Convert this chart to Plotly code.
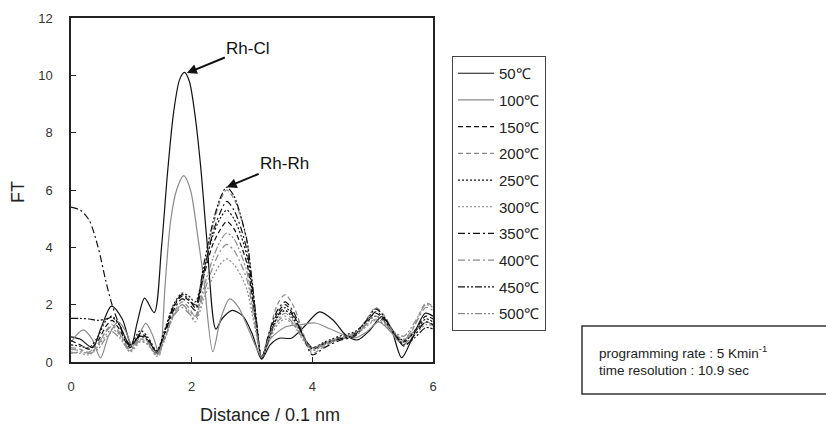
import plotly.graph_objects as go

# ---------------- data ----------------
temps = ["50℃", "100℃", "150℃", "200℃", "250℃", "300℃", "350℃", "400℃", "450℃", "500℃"]

x_50 = [0, 0.15, 0.36, 0.5, 0.67, 0.85, 1.0, 1.1, 1.22, 1.38, 1.5, 1.6, 1.7, 1.8, 1.88, 1.96, 2.05, 2.15,
        2.25, 2.4, 2.5, 2.67, 2.85, 3.0, 3.16, 3.3, 3.45, 3.65, 3.85, 4.12, 4.35, 4.55, 4.75, 4.95, 5.15,
        5.3, 5.48, 5.65, 5.87, 6.0]
y_50 = [0.88, 0.8, 0.5, 1.2, 1.95, 1.5, 0.58, 1.4, 2.23, 1.72, 4.0, 6.6, 8.7, 9.85, 10.1, 9.8, 8.7, 6.8,
        4.3, 1.15, 1.5, 1.8, 1.6, 1.0, 0.1, 0.6, 0.83, 0.83, 1.2, 1.75, 1.45, 0.95, 0.77, 1.1, 1.58,
        1.2, 0.15, 0.8, 1.7, 1.6]

x_100 = [0, 0.2, 0.35, 0.49, 0.62, 0.78, 0.9, 1.02, 1.12, 1.24, 1.36, 1.47, 1.56, 1.65, 1.75, 1.87, 1.98,
         2.1, 2.2, 2.35, 2.48, 2.63, 2.78, 2.95, 3.16, 3.3, 3.56, 3.8, 4.05, 4.3, 4.7, 4.9, 5.1, 5.3,
         5.45, 5.65, 5.9, 6.0]
y_100 = [0.7, 1.12, 0.8, 0.14, 0.9, 1.4, 1.1, 0.55, 0.9, 1.35, 0.9, 0.24, 2.7, 4.9, 6.0, 6.5, 6.0,
         4.4, 2.9, 0.36, 1.5, 2.2, 1.9, 1.1, 0.2, 0.8, 1.23, 1.3, 1.36, 1.15, 0.84, 1.05, 1.4, 1.05,
         0.7, 1.0, 1.4, 1.25]

x_hi = [0, 0.15, 0.3, 0.45, 0.58, 0.68, 0.8, 0.98, 1.15, 1.28, 1.42, 1.55, 1.7, 1.84, 1.95, 2.06, 2.2,
        2.35, 2.47, 2.58, 2.7, 2.82, 2.92, 3.0, 3.08, 3.16, 3.28, 3.42, 3.55, 3.7, 3.85, 4.0, 4.2,
        4.45, 4.7, 4.9, 5.05, 5.2, 5.35, 5.52, 5.7, 5.88, 6.0]
y_150 = [0.75, 0.6, 0.45, 0.75, 1.25, 1.45, 1.15, 0.5, 1.0, 0.8, 0.35, 1.0, 1.9, 2.3, 2.15, 2.0, 3.0,
         4.1, 4.6, 4.9, 4.65, 4.05, 3.4, 2.3, 1.1, 0.15, 0.95, 1.7, 2.0, 1.6, 0.9, 0.45, 0.65, 0.85,
         1.0, 1.45, 1.7, 1.45, 1.0, 0.7, 1.1, 1.6, 1.5]
y_200 = [0.5, 0.45, 0.3, 0.6, 1.1, 1.3, 1.05, 0.4, 0.8, 0.65, 0.25, 0.8, 1.7, 2.1, 1.9, 1.6, 3.1,
         4.7, 5.6, 6.0, 5.7, 5.0, 4.15, 2.8, 1.3, 0.15, 1.0, 2.0, 2.35, 1.9, 1.0, 0.3, 0.55, 0.8,
         0.95, 1.5, 1.9, 1.6, 1.05, 0.6, 1.3, 2.05, 1.95]
y_250 = [0.6, 0.55, 0.5, 0.9, 1.45, 1.6, 1.3, 0.6, 1.1, 0.85, 0.4, 1.1, 2.0, 2.4, 2.3, 2.1, 3.2,
         4.4, 5.0, 5.3, 5.0, 4.4, 3.65, 2.5, 1.2, 0.15, 0.85, 1.55, 1.8, 1.45, 0.85, 0.5, 0.7, 0.9,
         1.05, 1.4, 1.6, 1.4, 1.0, 0.75, 1.05, 1.5, 1.4]
y_300 = [0.35, 0.3, 0.25, 0.55, 0.95, 1.15, 0.95, 0.35, 0.7, 0.6, 0.2, 0.75, 1.6, 2.0, 1.75, 1.4, 2.2,
         2.95, 3.4, 3.6, 3.4, 3.0, 2.5, 1.7, 0.85, 0.12, 0.7, 1.3, 1.5, 1.25, 0.75, 0.4, 0.6, 0.8,
         0.9, 1.25, 1.45, 1.3, 0.95, 0.65, 0.95, 1.3, 1.25]
y_350 = [5.4, 5.3, 4.95, 4.0, 2.8, 2.0, 1.3, 0.55, 0.95, 0.75, 0.3, 0.95, 1.8, 2.2, 2.05, 1.8, 3.1,
         4.5, 5.2, 5.6, 5.3, 4.65, 3.85, 2.65, 1.25, 0.12, 1.0, 1.8, 2.1, 1.7, 0.9, 0.25, 0.5, 0.75,
         0.9, 1.35, 1.75, 1.5, 1.05, 0.55, 0.95, 1.4, 1.3]
y_400 = [0.45, 0.4, 0.35, 0.65, 1.05, 1.25, 1.0, 0.45, 0.85, 0.7, 0.3, 0.85, 1.6, 1.9, 1.7, 1.5, 2.4,
         3.3, 3.85, 4.1, 3.9, 3.4, 2.85, 1.95, 0.95, 0.15, 0.8, 1.4, 1.6, 1.3, 0.8, 0.45, 0.6, 0.8,
         0.95, 1.3, 1.5, 1.35, 1.0, 0.8, 1.3, 1.9, 1.8]
y_450 = [1.52, 1.52, 1.5, 1.45, 1.5, 1.55, 1.3, 0.6, 0.9, 0.75, 0.35, 1.05, 1.95, 2.35, 2.2, 1.9, 3.4,
         4.85, 5.7, 6.1, 5.8, 5.05, 4.2, 2.85, 1.35, 0.12, 0.8, 1.6, 1.9, 1.55, 0.9, 0.5, 0.65, 0.8,
         0.95, 1.45, 1.85, 1.55, 1.0, 0.6, 0.85, 1.2, 1.15]
y_500 = [0.3, 0.35, 0.3, 0.45, 0.85, 1.05, 0.85, 0.4, 0.75, 0.6, 0.25, 0.8, 1.65, 2.0, 1.8, 1.6, 2.6,
         3.6, 4.2, 4.5, 4.3, 3.75, 3.1, 2.1, 1.0, 0.15, 0.85, 1.45, 1.7, 1.4, 0.85, 0.5, 0.65, 0.85,
         1.0, 1.35, 1.6, 1.4, 1.05, 0.9, 1.4, 2.0, 1.9]

x_ticks = [0, 2, 4, 6]
y_ticks = [0, 2, 4, 6, 8, 10, 12]

# ---------------- styles ----------------
BLACK = "#111111"
GRAY = "#8a8a8a"
series = [
    (x_50, y_50, BLACK, "solid"),
    (x_100, y_100, GRAY, "solid"),
    (x_hi, y_150, BLACK, "5px,3px"),
    (x_hi, y_200, GRAY, "5px,3px"),
    (x_hi, y_250, BLACK, "2px,2px"),
    (x_hi, y_300, GRAY, "2px,2px"),
    (x_hi, y_350, BLACK, "7px,3px,2px,3px"),
    (x_hi, y_400, GRAY, "7px,3px,2px,3px"),
    (x_hi, y_450, BLACK, "7px,2px,2px,2px,2px,2px"),
    (x_hi, y_500, GRAY, "7px,2px,2px,2px,2px,2px"),
]

FONT = "Arial, Liberation Sans, sans-serif"

fig = go.Figure()
for name, (xs, ys, col, dash) in zip(temps, series):
    fig.add_trace(go.Scatter(
        x=xs, y=ys, mode="lines", name=name, legendgroup=name,
        line=dict(color=col, width=1.2, dash=dash, shape="spline", smoothing=0.8),
    ))

# Plot frame: x 71..433, y 18..362
fig.update_layout(
    width=826, height=426,
    margin=dict(l=71, r=393, t=18, b=64, pad=0),
    paper_bgcolor="white", plot_bgcolor="white",
    font=dict(family=FONT, size=13, color="#222222"),
    showlegend=True,
    legend=dict(
        x=1.0525, y=0.8895, xanchor="left", yanchor="top",
        bordercolor="#444444", borderwidth=1, bgcolor="white",
        font=dict(family=FONT, size=15, color="#222222"),
        tracegroupgap=4.2, itemwidth=36,
    ),
    xaxis=dict(
        range=[0, 6], tickvals=x_ticks, ticks="inside", ticklen=5, tickcolor="#222",
        showline=True, linecolor="#222", linewidth=1.5, mirror=True, showgrid=False,
        zeroline=False, ticklabelstandoff=12, tickfont=dict(size=13, color="#333"),
    ),
    yaxis=dict(
        range=[0, 12], tickvals=y_ticks, ticks="inside", ticklen=5, tickcolor="#222",
        showline=True, linecolor="#222", linewidth=1.5, mirror=True, showgrid=False,
        zeroline=False, ticklabelstandoff=14, tickfont=dict(size=13, color="#333"),
    ),
)

# axis titles
fig.add_annotation(text="FT", xref="paper", yref="paper", x=(18 - 71) / 362, y=(362 - 192) / 344,
                   showarrow=False, textangle=-90, font=dict(size=18, color="#222"),
                   xanchor="center", yanchor="middle")
fig.add_annotation(text="Distance / 0.1 nm", xref="paper", yref="paper", x=(270 - 71) / 362,
                   y=(362 - 415) / 344, showarrow=False, font=dict(size=18, color="#222"),
                   xanchor="center", yanchor="middle")

# peak labels
fig.add_annotation(text="Rh-Cl", x=1.92, y=10.08, ax=61, ay=-25, showarrow=True,
                   arrowhead=2, arrowsize=1, arrowwidth=2, arrowcolor="#111",
                   font=dict(size=17, color="#111"))
fig.add_annotation(text="Rh-Rh", x=2.58, y=6.1, ax=58, ay=-24, showarrow=True,
                   arrowhead=2, arrowsize=1, arrowwidth=2, arrowcolor="#111",
                   font=dict(size=17, color="#111"))

# info box
fig.add_shape(type="rect", xref="paper", yref="paper",
              x0=(582 - 71) / 362, x1=(828 - 71) / 362,
              y0=(362 - 394) / 344, y1=(362 - 326) / 344,
              line=dict(color="#333", width=1.5), fillcolor="white", layer="above")
fig.add_annotation(text="programming rate : 5 Kmin<sup>-1</sup><br>time resolution : 10.9 sec",
                   xref="paper", yref="paper", x=(597 - 71) / 362, y=(362 - 360) / 344,
                   xanchor="left", yanchor="middle", align="left", showarrow=False,
                   font=dict(size=13.5, color="#222"))

fig.write_html("out.html", post_script="document.body.style.margin='0';",
               config={"displayModeBar": False})
